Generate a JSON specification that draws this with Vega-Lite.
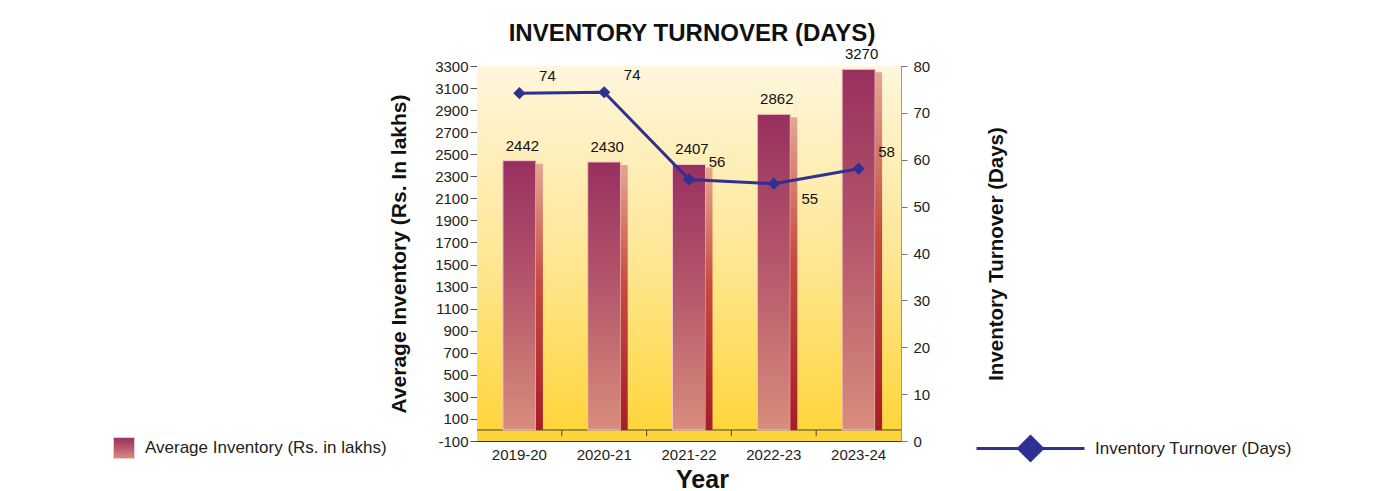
{
  "$schema": "https://vega.github.io/schema/vega-lite/v6.json",
  "width": 424,
  "height": 375,
  "autosize": {"type": "none"},
  "padding": {"left": 477, "top": 66, "right": 494, "bottom": 50},
  "background": "white",
  "config": {
    "font": "Liberation Sans",
    "view": {"stroke": "#333", "strokeWidth": 1},
    "axis": {"labelColor": "#222", "titleColor": "#111", "labelFont": "Liberation Sans", "titleFont": "Liberation Sans", "grid": false, "labelOverlap": false}
  },
  "title": {"text": "INVENTORY TURNOVER (DAYS)", "fontSize": 24, "fontWeight": "bold", "color": "#111", "anchor": "middle", "frame": "group", "offset": 1, "dx": 3},
  "data": {"values": [
    {"year": "2019-20", "inventory": 2442, "turnover": 74.2},
    {"year": "2020-21", "inventory": 2430, "turnover": 74.4},
    {"year": "2021-22", "inventory": 2407, "turnover": 55.8},
    {"year": "2022-23", "inventory": 2862, "turnover": 54.9},
    {"year": "2023-24", "inventory": 3270, "turnover": 58.1}
  ]},
  "layer": [
    {
      "layer": [
        {
          "data": {"values": [{}]},
          "mark": {"type": "rect", "color": {"gradient": "linear", "x1": 0, "y1": 0, "x2": 0, "y2": 1, "stops": [{"offset": 0, "color": "#fff6dc"}, {"offset": 0.5, "color": "#fee796"}, {"offset": 1, "color": "#fed536"}]}},
          "encoding": {
            "y": {"datum": -100, "type": "quantitative", "scale": {"domain": [-100, 3300], "nice": false, "zero": false}},
            "y2": {"datum": 3300}
          }
        },
        {
          "data": {"values": [{}]},
          "mark": {"type": "rect", "color": "#fdd43a"},
          "encoding": {
            "y": {"datum": -100, "type": "quantitative"},
            "y2": {"datum": 0}
          }
        },
        {
          "data": {"values": [{}]},
          "mark": {"type": "rule", "color": "#444", "strokeWidth": 1},
          "encoding": {"y": {"datum": 0, "type": "quantitative"}}
        },
        {
          "transform": [{"filter": "datum.year != '2019-20'"}],
          "mark": {"type": "rule", "color": "#444", "strokeWidth": 1, "xOffset": -42.4},
          "encoding": {
            "x": {"field": "year", "type": "nominal", "scale": {"domain": ["2019-20", "2020-21", "2021-22", "2022-23", "2023-24"], "paddingInner": 0, "paddingOuter": 0}},
            "y": {"datum": 0, "type": "quantitative"},
            "y2": {"datum": -55}
          }
        },
        {
          "mark": {"type": "bar", "width": 33, "strokeWidth": 1, "fill": {"gradient": "linear", "x1": 0, "y1": 0, "x2": 0, "y2": 1, "stops": [{"offset": 0, "color": "#98305f"}, {"offset": 0.5, "color": "#b65a6c"}, {"offset": 1, "color": "#d98d7c"}]}},
          "encoding": {
            "x": {"field": "year", "type": "nominal", "scale": {"domain": ["2019-20", "2020-21", "2021-22", "2022-23", "2023-24"], "paddingInner": 0, "paddingOuter": 0},
              "axis": {"title": "Year", "labelAngle": 0, "labelAlign": "center", "labelBaseline": "top", "labelFontSize": 15, "ticks": false, "tickSize": 0, "domain": false, "labelPadding": 6, "titleFontSize": 25, "titleFontWeight": "bold", "titlePadding": 5, "titleX": 225}},
            "y": {"field": "inventory", "type": "quantitative",
              "axis": {"orient": "left", "values": [-100, 100, 300, 500, 700, 900, 1100, 1300, 1500, 1700, 1900, 2100, 2300, 2500, 2700, 2900, 3100, 3300], "tickCount": 40, "labelExpr": "'' + datum.value", "labelOverlap": false, "title": "Average Inventory (Rs. In lakhs)", "titleFontSize": 21, "titleFontWeight": "bold", "titlePadding": 25, "labelFontSize": 15, "tickSize": 7, "tickColor": "#555", "domainColor": "#333", "labelPadding": 2}},
            "y2": {"datum": 0},
            "stroke": {"datum": "Average Inventory (Rs. in lakhs)", "scale": {"range": ["#f3c6cc"]},
              "legend": {"orient": "none", "legendX": -364, "legendY": 371, "title": null, "padding": 0, "symbolType": "square", "symbolSize": 441, "symbolStrokeWidth": 1, "labelFontSize": 17, "labelColor": "#222", "labelOffset": 10, "labelLimit": 0, "labelFont": "Liberation Sans",
                "encode": {"symbols": {"update": {"fill": {"value": {"gradient": "linear", "x1": 0, "y1": 0, "x2": 0, "y2": 1, "stops": [{"offset": 0, "color": "#c0403c"}, {"offset": 1, "color": "#f8dcd6"}]}}, "stroke": {"value": "#777"}, "opacity": {"value": 1}, "fillOpacity": {"value": 1}}}}}}
          }
        },
        {
          "mark": {"type": "bar", "width": 7, "xOffset": 20, "yOffset": 3, "fill": {"gradient": "linear", "x1": 0, "y1": 0, "x2": 0, "y2": 1, "stops": [{"offset": 0, "color": "#e4a690"}, {"offset": 0.45, "color": "#c84a40"}, {"offset": 1, "color": "#a61d29"}]}},
          "encoding": {
            "x": {"field": "year", "type": "nominal", "scale": {"domain": ["2019-20", "2020-21", "2021-22", "2022-23", "2023-24"], "paddingInner": 0, "paddingOuter": 0}},
            "y": {"field": "inventory", "type": "quantitative"},
            "y2": {"datum": 0}
          }
        },
        {
          "mark": {"type": "text", "fontSize": 15, "color": "#111", "dy": -15, "dx": 3},
          "encoding": {
            "x": {"field": "year", "type": "nominal", "scale": {"domain": ["2019-20", "2020-21", "2021-22", "2022-23", "2023-24"], "paddingInner": 0, "paddingOuter": 0}},
            "y": {"field": "inventory", "type": "quantitative"},
            "text": {"field": "inventory", "type": "quantitative", "format": "d"}
          }
        }
      ]
    },
    {
      "layer": [
        {
          "mark": {"type": "line", "strokeWidth": 3},
          "encoding": {
            "x": {"field": "year", "type": "nominal", "scale": {"domain": ["2019-20", "2020-21", "2021-22", "2022-23", "2023-24"], "paddingInner": 0, "paddingOuter": 0}},
            "y": {"field": "turnover", "type": "quantitative", "scale": {"domain": [0, 80], "nice": false, "zero": true},
              "axis": {"orient": "right", "values": [0, 10, 20, 30, 40, 50, 60, 70, 80], "tickCount": 40, "labelOverlap": false, "title": "Inventory Turnover (Days)", "titleAngle": 270, "titleFontSize": 20.5, "titleFontWeight": "bold", "titlePadding": 77, "labelFontSize": 15, "tickSize": 6, "tickColor": "#777", "domainColor": "#999", "labelPadding": 6}},
            "color": {"datum": "Inventory Turnover (Days)", "scale": {"range": ["#2e3192"]},
              "legend": {"orient": "none", "legendX": 498, "legendY": 327, "title": null, "padding": 0, "symbolType": "M-1,0L1,0M0,-0.22L0.22,0L0,0.22L-0.22,0Z", "symbolSize": 11664, "symbolStrokeWidth": 3, "labelFontSize": 17, "labelColor": "#222", "labelOffset": 9, "labelLimit": 0, "labelFont": "Liberation Sans",
                "encode": {"symbols": {"update": {"fill": {"value": "#2e3192"}, "stroke": {"value": "#2e3192"}, "opacity": {"value": 1}, "fillOpacity": {"value": 1}}}}}}
          }
        },
        {
          "mark": {"type": "point", "shape": "diamond", "filled": true, "size": 150, "color": "#2e3192", "opacity": 1},
          "encoding": {
            "x": {"field": "year", "type": "nominal", "scale": {"domain": ["2019-20", "2020-21", "2021-22", "2022-23", "2023-24"], "paddingInner": 0, "paddingOuter": 0}},
            "y": {"field": "turnover", "type": "quantitative"}
          }
        },
        {
          "transform": [{"filter": "datum.year != '2022-23'"}],
          "mark": {"type": "text", "fontSize": 15, "color": "#111", "dx": 28, "dy": -17},
          "encoding": {
            "x": {"field": "year", "type": "nominal", "scale": {"domain": ["2019-20", "2020-21", "2021-22", "2022-23", "2023-24"], "paddingInner": 0, "paddingOuter": 0}},
            "y": {"field": "turnover", "type": "quantitative"},
            "text": {"field": "turnover", "type": "quantitative", "format": ".0f"}
          }
        },
        {
          "transform": [{"filter": "datum.year == '2022-23'"}],
          "mark": {"type": "text", "fontSize": 15, "color": "#111", "dx": 36, "dy": 15},
          "encoding": {
            "x": {"field": "year", "type": "nominal", "scale": {"domain": ["2019-20", "2020-21", "2021-22", "2022-23", "2023-24"], "paddingInner": 0, "paddingOuter": 0}},
            "y": {"field": "turnover", "type": "quantitative"},
            "text": {"field": "turnover", "type": "quantitative", "format": ".0f"}
          }
        }
      ]
    }
  ],
  "resolve": {"scale": {"y": "independent"}}
}
